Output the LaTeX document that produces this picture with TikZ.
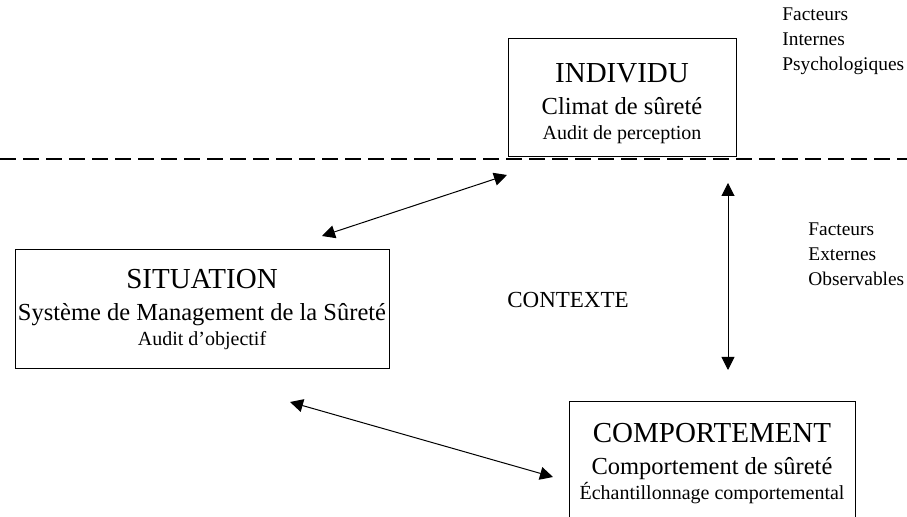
\documentclass[tikz,border=0pt]{standalone}
\usepackage{fontspec}
\setmainfont{Liberation Serif}
\usetikzlibrary{arrows.meta}

\begin{document}
\begin{tikzpicture}[x=0.5pt,y=-0.5pt,
  frame/.style={draw,line width=0.5pt,inner sep=0pt},
  boxtext/.style={align=center,inner sep=0pt,font=\fontsize{12.25}{16}\selectfont},
  side/.style={align=left,inner sep=0pt,font=\fontsize{9.7}{12.5}\selectfont},
  dbl/.style={{Triangle[length=6.5pt,width=6.5pt]}-{Triangle[length=6.5pt,width=6.5pt]},line width=0.5pt}]
\clip (0,0) rectangle (907,517);
\draw[line width=1.1pt,dash pattern=on 8pt off 3.5pt] (0,159) -- (907,159);
% the three boxes
\node[frame,minimum width=114pt,minimum height=59pt] (individu) at (622,98) {};
\node[frame,minimum width=187pt,minimum height=59.5pt] (situation) at (202,309.5) {};
\node[frame,minimum width=143pt,minimum height=59pt] (comportement) at (712,461) {};
\node[boxtext] (individu-txt) at ([yshift=-3pt]individu.center)
   {{\fontsize{14.5}{16}\selectfont INDIVIDU}\\ Climat de sûreté\\[-3.5pt]
    {\fontsize{10}{12.5}\selectfont Audit de perception}};
\node[boxtext] (situation-txt) at (situation.center)
   {{\fontsize{14.5}{16}\selectfont SITUATION}\\ Système de Management de la Sûreté\\[-3.5pt]
    {\fontsize{10}{12.5}\selectfont Audit d’objectif}};
\node[boxtext] (comportement-txt) at ([yshift=-1.5pt]comportement.center)
   {{\fontsize{14.5}{16}\selectfont COMPORTEMENT}\\ Comportement de sûreté\\[-3.5pt]
    {\fontsize{10}{12.5}\selectfont Échantillonnage comportemental}};
\node[side,anchor=north west] (internes) at (782,7) {Facteurs\\Internes\\Psychologiques};
\node[side,anchor=north west] (externes) at (808,222) {Facteurs\\Externes\\Observables};
\node[side,font=\fontsize{11.5}{14}\selectfont] (contexte) at (568,300) {CONTEXTE};
% free ends of the arrows
\coordinate (s1) at (322,236);
\coordinate (i1) at (507,175);
\coordinate (s2) at (290,402);
\coordinate (c2) at (553,477);
\coordinate (i3) at (728,183);
\coordinate (c3) at (728,370);
\draw[dbl] (s1) -- (i1);
\draw[dbl] (s2) -- (c2);
\draw[dbl] (i3) -- (c3);
\end{tikzpicture}
\end{document}
